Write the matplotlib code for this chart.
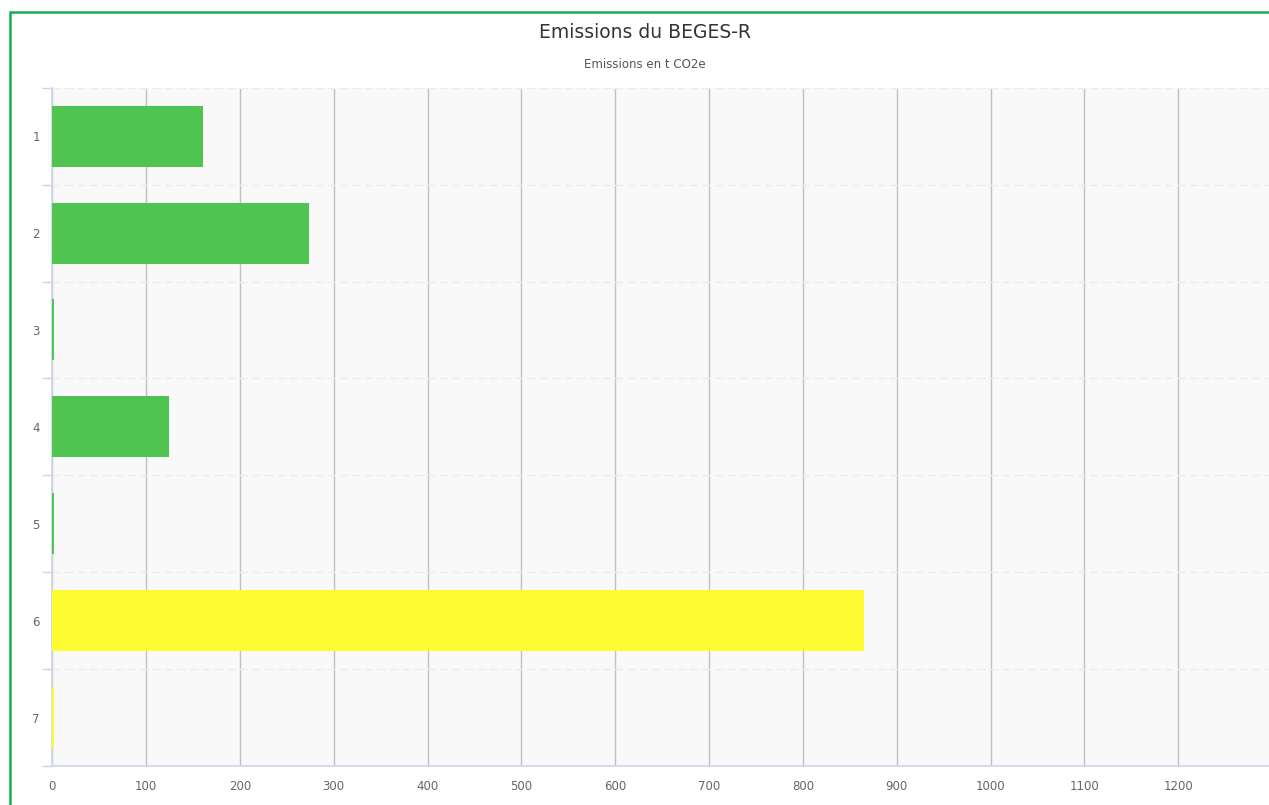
import matplotlib
matplotlib.use("Agg")
import matplotlib.pyplot as plt
from matplotlib.patches import Rectangle
import numpy as np

categories = ["1", "2", "3", "4", "5", "6", "7"]
values = [160.5, 273.5, 2, 124.5, 2, 865, 2]
colors = ["#50c450", "#50c450", "#50c450", "#50c450", "#50c450", "#fcfc30", "#fcfc30"]
x_ticks = [0, 100, 200, 300, 400, 500, 600, 700, 800, 900, 1000, 1100, 1200]

W, H = 1269, 805
fig = plt.figure(figsize=(W / 100, H / 100), dpi=100)
fig.patch.set_facecolor("white")

left, right, top, bottom = 52.2, 1269, 87.7, 766
ax = fig.add_axes([left / W, 1 - bottom / H, (right - left) / W, (bottom - top) / H])
ax.set_facecolor("#f9f9f9")

y = np.arange(len(categories))
ax.barh(y, values, height=0.63, color=colors, edgecolor="none", zorder=3)

ax.set_ylim(len(categories) - 0.5, -0.5)
ax.set_xlim(0, (right - left) / 0.9384)

ax.set_yticks(y)
ax.set_yticklabels(categories, fontsize=8.5, color="#666666")
ax.set_yticks(np.arange(-0.5, len(categories), 1.0), minor=True)
ax.tick_params(axis="y", which="major", length=0, pad=9)
ax.tick_params(axis="y", which="minor", length=7.2, width=1, color="#ccd6eb")

ax.set_xticks(x_ticks)
ax.set_xticklabels([str(v) for v in x_ticks], fontsize=8.5, color="#666666")
ax.tick_params(axis="x", which="both", length=0, pad=10)

ax.grid(axis="x", which="major", color="#c0c0c0", linewidth=1, zorder=0)
ax.grid(axis="y", which="minor", color="#ededed", linewidth=1, linestyle=(0, (6, 3)), zorder=0)
ax.grid(axis="y", which="major", visible=False)
ax.set_axisbelow(True)

for s in ["top", "right"]:
    ax.spines[s].set_visible(False)
for s in ["left", "bottom"]:
    ax.spines[s].set_color("#ccd6eb")
    ax.spines[s].set_linewidth(1.2)

fig.text(645 / W, 1 - 33 / H, "Emissions du BEGES-R", ha="center", va="center",
         fontsize=13.5, color="#333333")
fig.text(645 / W, 1 - 64 / H, "Emissions en t CO2e", ha="center", va="center",
         fontsize=8.5, color="#555555")

# green border frame
fig.patches.append(Rectangle((9.5 / W, -0.1), 1.2, 1 - 12.2 / H + 0.1,
                             transform=fig.transFigure, fill=False,
                             edgecolor="#10b050", linewidth=1.8, zorder=10))

fig.savefig("out.png", dpi=100)
